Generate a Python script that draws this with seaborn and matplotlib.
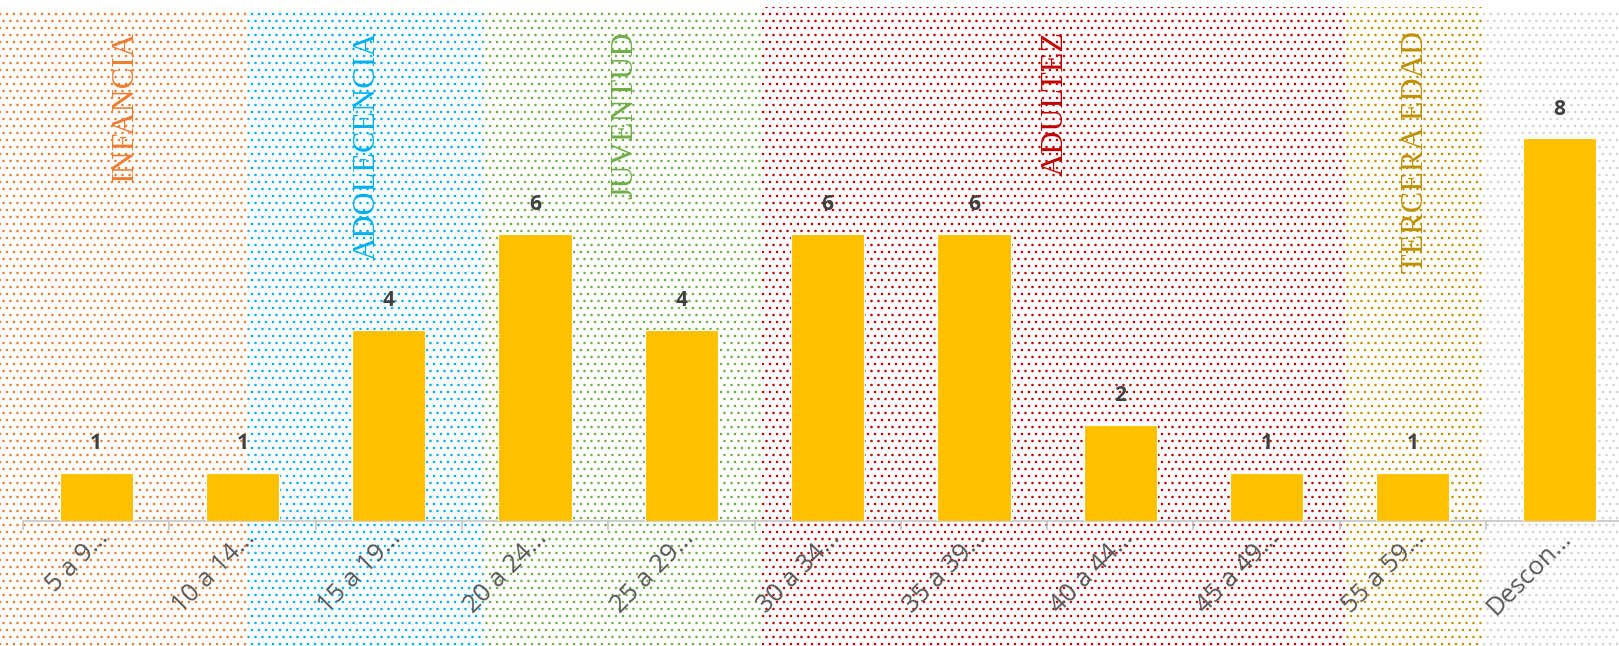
import matplotlib
matplotlib.use("Agg")
import matplotlib.pyplot as plt
import matplotlib.transforms as mtransforms
from matplotlib.patches import Rectangle
import seaborn as sns
import pandas as pd

## data
age_groups = ["5 a 9…", "10 a 14…", "15 a 19…", "20 a 24…", "25 a 29…", "30 a 34…",
              "35 a 39…", "40 a 44…", "45 a 49…", "55 a 59…", "Descon…"]
counts = [1, 1, 4, 6, 4, 6, 6, 2, 1, 1, 8]

## life stage bands (label, colour)
stages = ["INFANCIA", "ADOLECENCIA", "JUVENTUD", "ADULTEZ", "TERCERA EDAD", ""]
stage_colors = ["#ED7D31", "#00B0F0", "#70AD47", "#C00000", "#BF9000", "#D3D3D3"]

## layout (band edges in category units, as drawn in the original)
band_edges = [-0.66, 1.038, 2.644, 4.551, 8.536, 9.472, 10.6]
band_tops = [0.9814, 0.9814, 0.9814, 0.989, 0.989, 0.988]
label_x = [0.197, 1.855, 3.615, 6.554, 9.02, None]

df = pd.DataFrame({"grupo": age_groups, "casos": counts})

sns.set_style("white")
plt.rcParams["hatch.linewidth"] = 0.95

DPI = 84
fig = plt.figure(figsize=(1619 / DPI, 646 / DPI), dpi=DPI)
ax = fig.add_axes([23 / 1619, (646 - 520.7) / 646, 1596 / 1619, 508.7 / 646])
ax.patch.set_visible(False)

sns.barplot(data=df, x="grupo", y="casos", color="#FFC000", saturation=1,
            width=0.5, ax=ax, zorder=3)

## dotted background bands, x in data units, y in figure fraction
trans = mtransforms.blended_transform_factory(ax.transData, fig.transFigure)
for i, col in enumerate(stage_colors):
    r = Rectangle((band_edges[i], 0), band_edges[i + 1] - band_edges[i], band_tops[i],
                  transform=trans, facecolor="white", edgecolor=col, hatch="..",
                  linewidth=0, clip_on=False, zorder=0)
    ax.add_patch(r)
    if stages[i]:
        ax.text(label_x[i], 0.952, stages[i], transform=trans, rotation=90,
                ha="center", va="top", color=col, fontsize=27.5,
                family="Liberation Serif", zorder=2)

for c in ax.containers:
    ax.bar_label(c, fmt="%d", padding=16, fontsize=18, fontweight="bold",
                 color="#404040", family="Open Sans")

## axes styling
sns.despine(ax=ax, left=True)
ax.spines["bottom"].set_color("#BFBFBF")
ax.spines["bottom"].set_linewidth(1.3)
ax.set_yticks([])
ax.set_xlabel("")
ax.set_ylabel("")
ax.set_xticks(range(len(age_groups)))
ax.set_xticks([i - 0.5 for i in range(len(age_groups) + 1)], minor=True)
ax.tick_params(axis="x", which="major", length=0, pad=4)
ax.tick_params(axis="x", which="minor", length=7.5, width=1.3, color="#BFBFBF",
               bottom=True)
ax.set_xticklabels(age_groups, rotation=45, ha="right", va="top",
                   rotation_mode="anchor", fontsize=22, color="#595959",
                   family="Open Sans")

## limits last, set_xticks would widen them otherwise
ax.set_xlim(-0.5, -0.5 + 1596 / 146.3)
ax.set_ylim(0, 508.7 / 47.8)

plt.savefig("out.png", dpi=DPI)
